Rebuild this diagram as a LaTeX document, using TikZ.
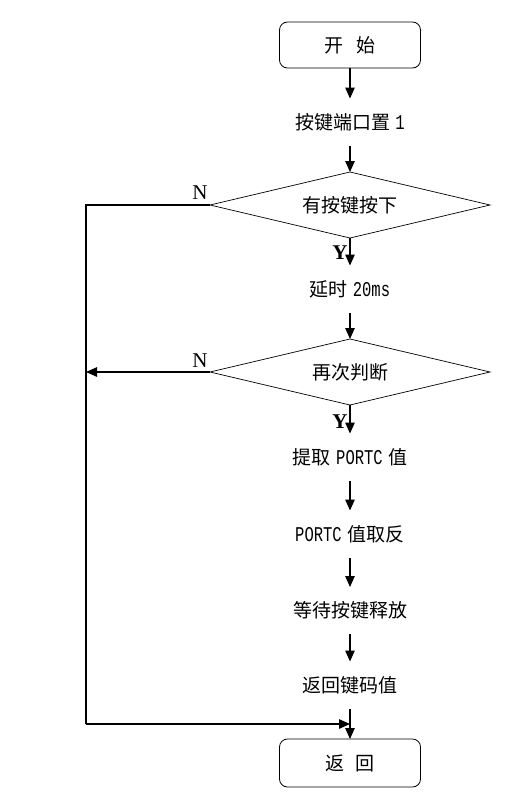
\documentclass[tikz,border=0pt]{standalone}
\usepackage{fontspec}
\setmainfont{Liberation Serif}
\newfontfamily\cjk{Noto Sans CJK SC}
\newfontfamily\lmono{Liberation Mono}[FakeStretch=0.74]
\usetikzlibrary{shapes.geometric,arrows.meta}
\newcommand\cjkf{\cjk\fontsize{19}{19}\selectfont}
\newcommand\lat[1]{{\lmono\fontsize{21}{21}\selectfont #1}}
\tikzset{
  proc/.style={font=\cjkf, inner sep=0pt, outer sep=0pt, minimum height=47pt},
  term/.style={draw, line width=0.8pt, rounded corners=8pt, minimum width=141pt, minimum height=46pt, font=\cjkf, inner sep=0pt, outer sep=0pt},
  dec/.style={draw, line width=0.7pt, diamond, aspect=4.24, minimum width=280pt, minimum height=66pt, inner sep=0pt, outer sep=0pt, font=\cjkf},
  arr/.style={-{Triangle[length=11pt,width=9.5pt]}, line width=1.3pt},
  lab/.style={font=\fontsize{21}{21}\selectfont, inner sep=0pt},
}
\begin{document}
\begin{tikzpicture}[x=1pt,y=-1pt]
\useasboundingbox (0,0) rectangle (525,798);
\node[term] (start) at (350,45) {开\hspace{13pt}始};
\node[proc] (s1) at (350,122) {按键端口置\hspace{5pt}\lat{1}};
\node[dec] (d1) at (350,205) {有按键按下};
\node[proc] (s2) at (350,289) {延时\hspace{5pt}\lat{20ms}};
\node[dec] (d2) at (350,372) {再次判断};
\node[proc] (s3) at (350,457) {提取\hspace{6pt}\lat{PORTC}\hspace{6pt}值};
\node[proc] (s4) at (350,534) {\lat{PORTC}\hspace{6pt}值取反};
\node[proc] (s5) at (350,610.5) {等待按键释放};
\node[proc] (s6) at (350,685) {返回键码值};
\node[term, minimum height=48pt] (ret) at (350,763) {返\hspace{11pt}回};
\coordinate (cL) at (86,724);
\coordinate (cJ) at (350,724);
\draw[arr] (start) -- (s1);
\draw[arr] (s1) -- (d1);
\draw[arr] (d1) -- (s2);
\draw[arr] (s2) -- (d2);
\draw[arr] (d2) -- (s3);
\draw[arr] (s3) -- (s4);
\draw[arr] (s4) -- (s5);
\draw[arr] (s5) -- (s6);
\draw[arr] (s6) -- (ret);
\draw[line width=1.3pt] (d1.west) -- (d1.west -| cL) -- (cL);
\draw[arr] (cL) -- (cJ);
\draw[arr] (d2.west) -- (d2.west -| cL);
\node[lab] (n1) at (200,193) {N};
\node[lab] (n2) at (200,361) {N};
\node[lab, font=\bfseries\fontsize{21}{21}\selectfont] (y1) at (340,253) {Y};
\node[lab, font=\bfseries\fontsize{21}{21}\selectfont] (y2) at (340,422) {Y};
\end{tikzpicture}
\end{document}
